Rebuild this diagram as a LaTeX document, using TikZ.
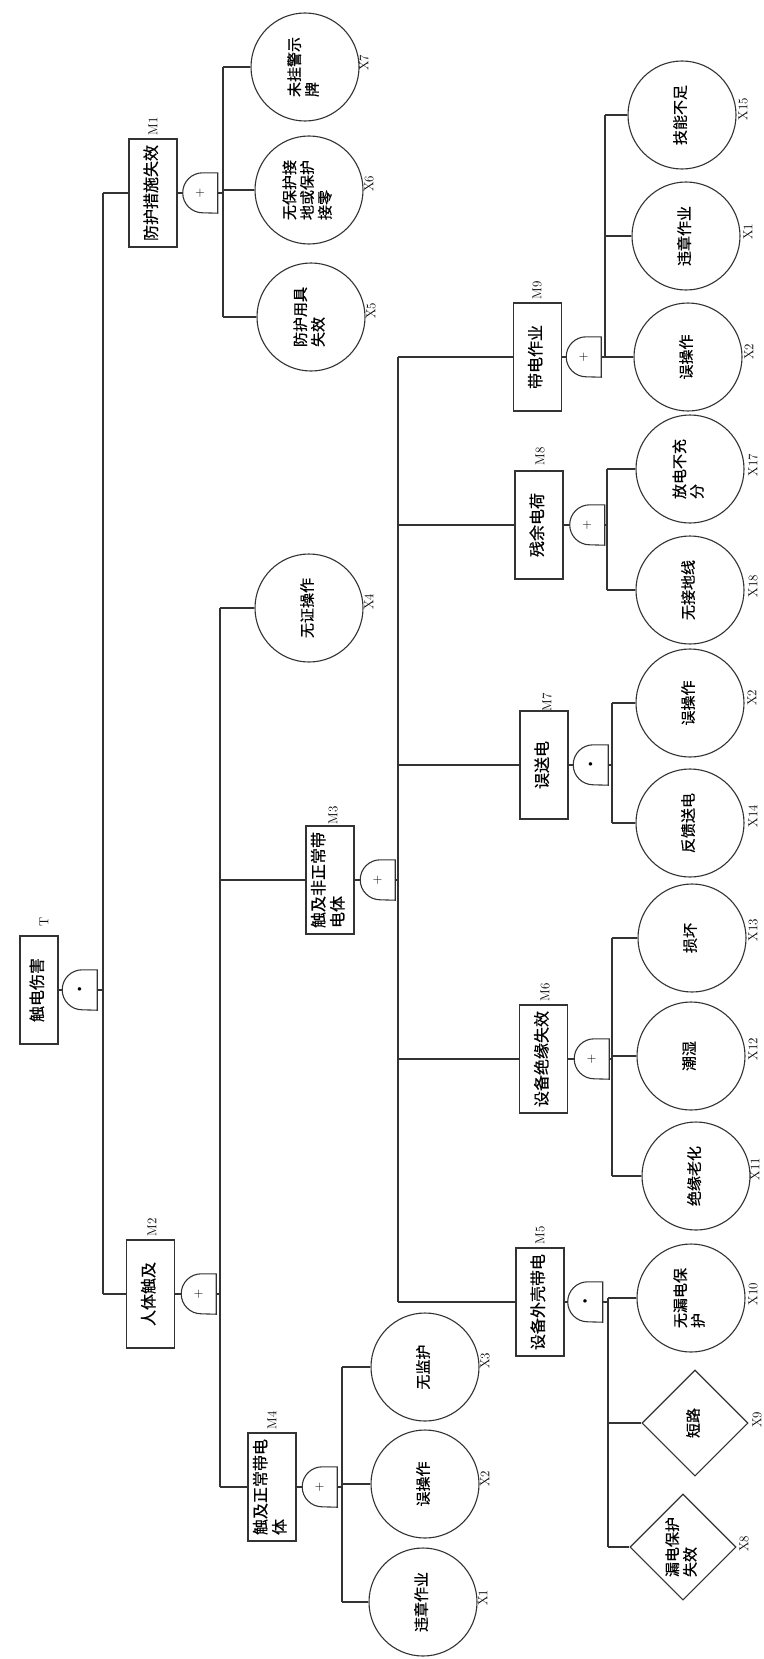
\documentclass[tikz,border=0pt]{standalone}
\usepackage{fontspec}
\usepackage{graphicx}
\usetikzlibrary{shapes.geometric,calc}
\newfontfamily\cjk{Noto Sans CJK SC}[FakeBold=0.6]
\newcommand\rtext[1]{\rotatebox{90}{\begin{tabular}{@{}l@{}}#1\end{tabular}}}
\begin{document}
\begin{tikzpicture}[x=1pt,y=1pt,
  ln/.style={line width=1.1pt, draw=black!80},
  mbox/.style={ln, rectangle, minimum width=48pt, minimum height=108pt, inner sep=0pt, font=\cjk\fontsize{16}{19}\selectfont},
  ev/.style={ln, circle, minimum size=108pt, inner sep=0pt, font=\cjk\fontsize{15}{17}\selectfont},
  dm/.style={ln, diamond, aspect=1, minimum width=106pt, minimum height=106pt, inner sep=0pt, font=\cjk\fontsize{15}{17}\selectfont},
  gate/.style={minimum width=35pt, minimum height=40pt, inner sep=0pt, font=\fontsize{13}{13}\selectfont},
  lab/.style={rotate=90, inner sep=0pt, font=\fontsize{13}{13}\selectfont},
]
\useasboundingbox[fill=white] (0,0) rectangle (763,-1659);

% ---- event boxes ----
\node[mbox, minimum width=38pt] (T) at (39,-990) {\rtext{触电伤害}};
\node[mbox] (M1) at (153,-193) {\rtext{防护措施失效}};
\node[mbox] (M2) at (150.5,-1294) {\rtext{人体触及}};
\node[mbox] (M3) at (330,-880) {\rtext{触及非正常带\\电体}};
\node[mbox] (M4) at (272,-1487) {\rtext{触及正常带电\\体}};
\node[mbox] (M5) at (540,-1302) {\rtext{设备外壳带电}};
\node[mbox] (M6) at (543.5,-1059) {\rtext{设备绝缘失效}};
\node[mbox] (M7) at (544,-765) {\rtext{误送电}};
\node[mbox] (M8) at (539,-525) {\rtext{残余电荷}};
\node[mbox] (M9) at (537.5,-357) {\rtext{带电作业}};

% ---- box labels ----
\node[lab] (lT) at (44,-922) {T};
\node[lab] (lM1) at (153,-126) {M1};
\node[lab] (lM2) at (152,-1227) {M2};
\node[lab] (lM3) at (333,-815) {M3};
\node[lab] (lM4) at (272,-1420) {M4};
\node[lab] (lM5) at (540,-1235) {M5};
\node[lab] (lM6) at (545,-992) {M6};
\node[lab] (lM7) at (547,-702) {M7};
\node[lab] (lM8) at (540,-456) {M8};
\node[lab] (lM9) at (537,-290) {M9};

% ---- gates ----
\node[gate] (gT) at (79.5,-990) {\textbullet};
\node[gate] (g1) at (200,-193) {+};
\node[gate] (g2) at (198.5,-1294) {+};
\node[gate] (g3) at (377.5,-880) {+};
\node[gate] (g4) at (319.5,-1487) {+};
\node[gate] (g5) at (585,-1302) {\textbullet};
\node[gate] (g6) at (591.5,-1059) {+};
\node[gate] (g7) at (590.5,-765) {\textbullet};
\node[gate] (g8) at (587,-525) {+};
\node[gate] (g9) at (583.5,-357) {+};
\foreach \g in {gT,g1,g2,g3,g4,g5,g6,g7,g8,g9}
  \draw[ln] (\g.north east) -- ([xshift=-15pt]\g.north east)
    arc[start angle=90,end angle=270,radius=20pt] -- (\g.south east) -- cycle;

% ---- basic events ----
\node[ev] (X7) at (305,-67) {\rtext{未挂警示\\牌}};
\node[ev] (X6) at (309,-190) {\rtext{无保护接\\地或保护\\接零}};
\node[ev] (X5) at (311,-317) {\rtext{防护用具\\失效}};
\node[ev] (X4) at (309,-608) {\rtext{无证操作}};
\node[ev] (X3) at (425,-1367) {\rtext{无监护}};
\node[ev] (X2a) at (425,-1484) {\rtext{误操作}};
\node[ev] (X1a) at (423,-1602) {\rtext{违章作业}};
\node[ev] (X10) at (691,-1298) {\rtext{无漏电保\\护}};
\node[dm] (X9) at (695,-1423) {\rtext{短路}};
\node[dm] (X8) at (683,-1547) {\rtext{漏电保护\\失效}};
\node[ev] (X13) at (692,-938) {\rtext{损坏}};
\node[ev] (X12) at (691,-1056) {\rtext{潮湿}};
\node[ev] (X11) at (696,-1176) {\rtext{绝缘老化}};
\node[ev] (X2b) at (690,-703) {\rtext{误操作}};
\node[ev] (X14) at (690,-823) {\rtext{反馈送电}};
\node[ev] (X17) at (690,-469) {\rtext{放电不充\\分}};
\node[ev] (X18) at (690,-590) {\rtext{无接地线}};
\node[ev] (X15) at (682,-115) {\rtext{技能不足}};
\node[ev] (X1b) at (686,-236) {\rtext{违章作业}};
\node[ev] (X2c) at (688,-357) {\rtext{误操作}};

% ---- event labels ----
\node[lab] (lX7) at (364,-63) {X7};
\node[lab] (lX6) at (369,-184) {X6};
\node[lab] (lX5) at (371,-311) {X5};
\node[lab] (lX4) at (369,-602) {X4};
\node[lab] (lX3) at (485,-1361) {X3};
\node[lab] (lX2a) at (485,-1479) {X2};
\node[lab] (lX1a) at (483,-1598) {X1};
\node[lab] (lX10) at (753,-1294) {X10};
\node[lab] (lX9) at (757,-1420) {X9};
\node[lab] (lX8) at (744,-1544) {X8};
\node[lab] (lX13) at (753,-930) {X13};
\node[lab] (lX12) at (753,-1049) {X12};
\node[lab] (lX11) at (755,-1169) {X11};
\node[lab] (lX2b) at (752,-698) {X2};
\node[lab] (lX14) at (753,-816) {X14};
\node[lab] (lX17) at (753,-465) {X17};
\node[lab] (lX18) at (753,-586) {X18};
\node[lab] (lX15) at (743,-109) {X15};
\node[lab] (lX1b) at (748,-232) {X1};
\node[lab] (lX2c) at (749,-352) {X2};

% ---- bus coordinates ----
\coordinate (bT) at (103,-990);
\coordinate (b1) at (223,-193);
\coordinate (b2) at (220,-1294);
\coordinate (b3) at (398,-880);
\coordinate (b4) at (342,-1487);
\coordinate (b5) at (608,-1302);
\coordinate (b6) at (612,-1059);
\coordinate (b7) at (612,-765);
\coordinate (b8) at (607,-525);
\coordinate (b9) at (605,-357);

% ---- connectors: box -> gate -> bus ----
\foreach \m/\g/\b in {T/gT/bT,M1/g1/b1,M2/g2/b2,M3/g3/b3,M4/g4/b4,M5/g5/b5,M6/g6/b6,M7/g7/b7,M8/g8/b8,M9/g9/b9}{
  \draw[ln] (\m.east) -- (\g.west);
  \draw[ln] (\g.east) -- (\b);
}
% vertical buses
\draw[ln] (bT |- M1.west) -- (bT |- M2.west);
\draw[ln] (b1 |- X7.west) -- (b1 |- X5.west);
\draw[ln] (b2 |- X4.west) -- (b2 |- M4.west);
\draw[ln] (b3 |- M9.west) -- (b3 |- M5.west);
\draw[ln] (b4 |- X3.west) -- (b4 |- X1a.west);
\draw[ln] (b5 |- X10.west) -- (b5 |- X8.west);
\draw[ln] (b6 |- X13.west) -- (b6 |- X11.west);
\draw[ln] (b7 |- X2b.west) -- (b7 |- X14.west);
\draw[ln] (b8 |- X17.west) -- (b8 |- X18.west);
\draw[ln] (b9 |- X15.west) -- (b9 |- X2c.west);
% branches
\foreach \b/\c in {bT/M1,bT/M2,b1/X7,b1/X6,b1/X5,b2/X4,b2/M3,b2/M4,
  b3/M9,b3/M8,b3/M7,b3/M6,b3/M5,b4/X3,b4/X2a,b4/X1a,b5/X10,b5/X9,b5/X8,
  b6/X13,b6/X12,b6/X11,b7/X2b,b7/X14,b8/X17,b8/X18,b9/X15,b9/X1b,b9/X2c}
  \draw[ln] (\b |- \c.west) -- (\c.west);
\end{tikzpicture}
\end{document}
